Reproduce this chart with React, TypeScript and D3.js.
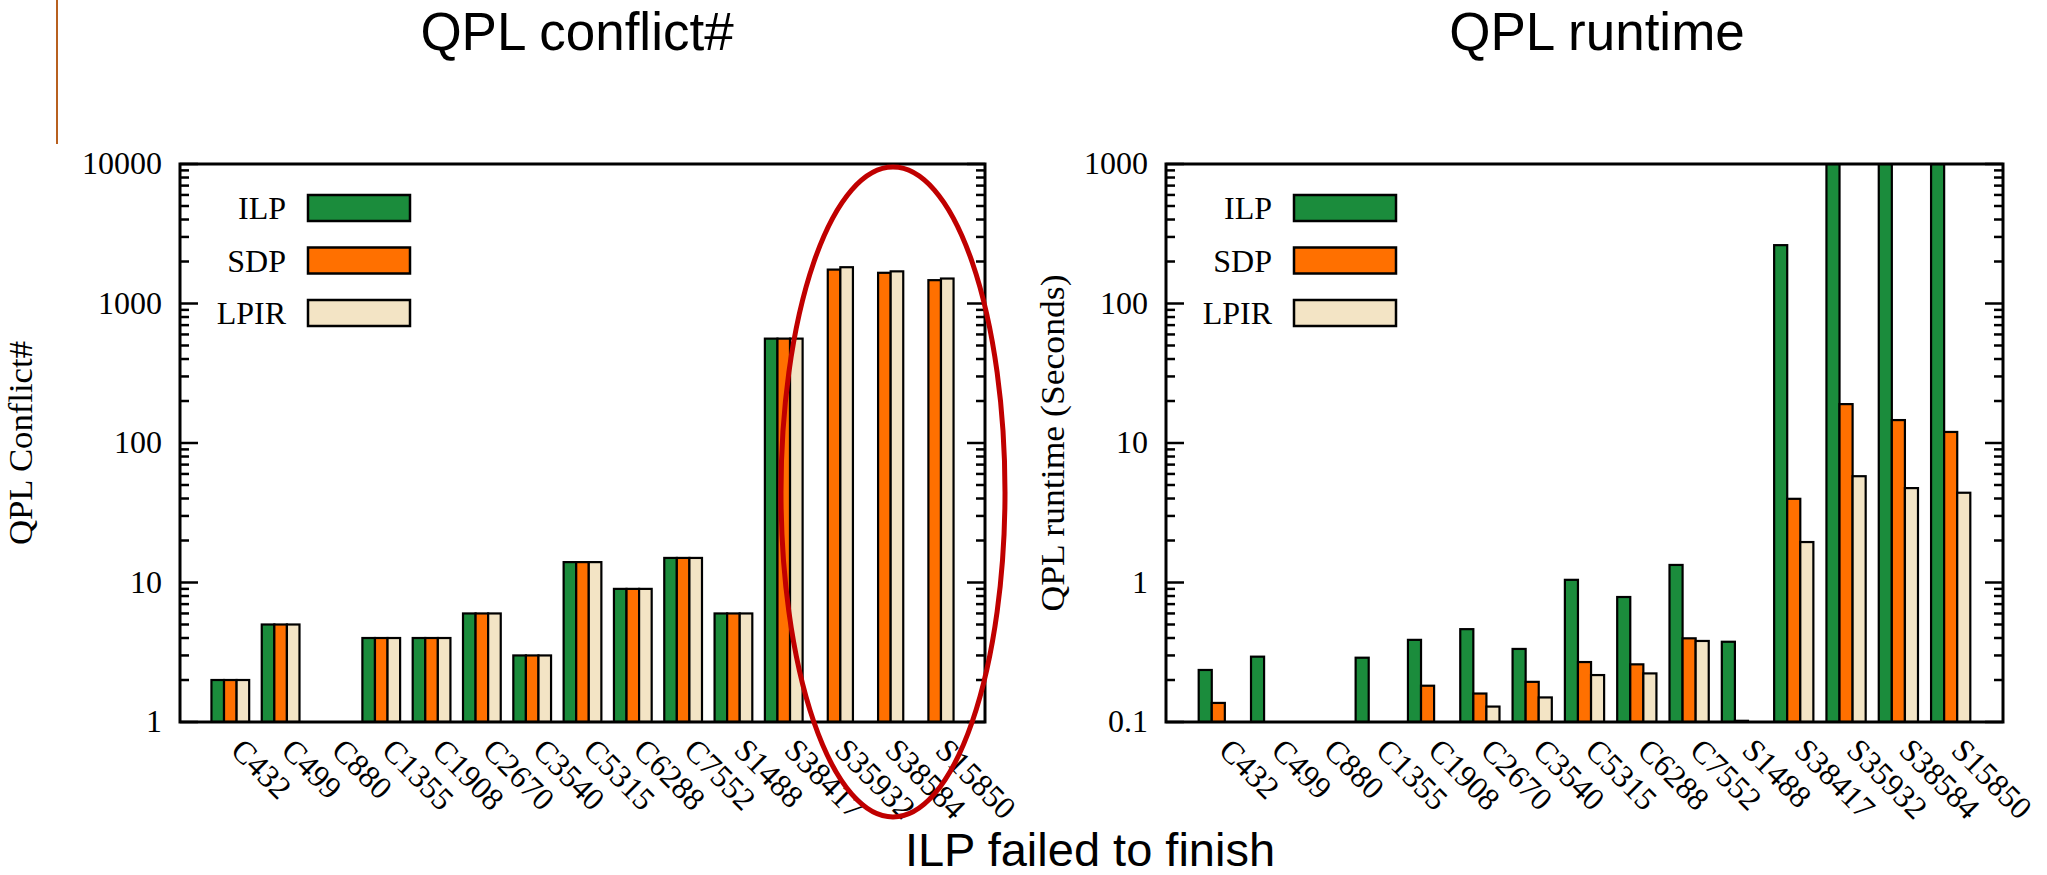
import React from 'react';
import * as d3 from 'd3';

const categories = ['C432','C499','C880','C1355','C1908','C2670','C3540','C5315','C6288','C7552','S1488','S38417','S35932','S38584','S15850'];
const seriesNames = ['ILP','SDP','LPIR'];
const seriesColors = ['#1b8c3c','#ff7000','#f3e4c5'];

const conflictILP: (number|null)[] = [2,5,null,4,4,6,3,14,9,15,6,560,null,null,null];
const conflictSDP: (number|null)[] = [2,5,null,4,4,6,3,14,9,15,6,560,1750,1660,1470];
const conflictLPIR: (number|null)[] = [2,5,null,4,4,6,3,14,9,15,6,560,1820,1700,1510];

const runtimeILP: (number|null)[] = [0.236,0.294,null,0.289,0.388,0.463,0.334,1.045,0.787,1.336,0.376,262,1000,1000,1000];
const runtimeSDP: (number|null)[] = [0.137,null,null,null,0.182,0.160,0.194,0.269,0.259,0.398,0.102,3.98,19.0,14.6,12.0];
const runtimeLPIR: (number|null)[] = [null,null,null,null,null,0.129,0.150,0.217,0.223,0.381,null,1.95,5.78,4.75,4.40];

const conflictTicks = [1,10,100,1000,10000];
const conflictTickLabels = ['1','10','100','1000','10000'];
const runtimeTicks = [0.1,1,10,100,1000];
const runtimeTickLabels = ['0.1','1','10','100','1000'];

const SERIF = '"Liberation Serif", "Times New Roman", serif';
const SANS = '"Liberation Sans", Arial, sans-serif';

type PanelProps = {
  x0: number; x1: number; y0: number; y1: number;
  domain: [number, number];
  ticks: number[]; tickLabels: string[];
  series: (number|null)[][];
  yLabel: string; yLabelX: number; yLabelLen: number;
  clipId: string;
};

function Panel(p: PanelProps) {
  const x = d3.scaleLinear().domain([-1, categories.length]).range([p.x0, p.x1]);
  const y = d3.scaleLog().domain(p.domain).range([p.y1, p.y0]);
  const unit = x(1) - x(0);
  const bw = unit * 0.25;
  const all = y.ticks();
  const majors = new Set(p.ticks.map(t => +t.toPrecision(6)));
  const legendX = p.x0 + 128;
  const yMid = (p.y0 + p.y1) / 2;
  return (
    <g>
      <defs>
        <clipPath id={p.clipId}>
          <rect x={p.x0} y={p.y0} width={p.x1 - p.x0} height={p.y1 - p.y0} />
        </clipPath>
      </defs>
      <g clipPath={`url(#${p.clipId})`}>
        {categories.map((c, i) => p.series.map((s, k) => {
          const v = s[i];
          if (v == null) return null;
          const xc = x(i + (k - 1) * 0.25);
          const top = y(v);
          return (
            <rect key={c + k} x={xc - bw / 2} y={top} width={bw} height={p.y1 - top}
              fill={seriesColors[k]} stroke="#000" strokeWidth={2.2} />
          );
        }))}
      </g>
      {all.map((t, i) => {
        const major = majors.has(+t.toPrecision(6));
        const len = major ? 18 : 9;
        const yy = y(t);
        return (
          <g key={'t' + i}>
            <line x1={p.x0} x2={p.x0 + len} y1={yy} y2={yy} stroke="#000" strokeWidth={2.5} />
            <line x1={p.x1} x2={p.x1 - len} y1={yy} y2={yy} stroke="#000" strokeWidth={2.5} />
          </g>
        );
      })}
      {p.ticks.map((t, i) => (
        <text key={'l' + i} x={p.x0 - 18} y={y(t) + 10} textAnchor="end"
          fontFamily={SERIF} fontSize={32} fill="#000">{p.tickLabels[i]}</text>
      ))}
      <rect x={p.x0} y={p.y0} width={p.x1 - p.x0} height={p.y1 - p.y0} fill="none" stroke="#000" strokeWidth={3} />
      {categories.map((c, i) => {
        const ax = x(i) - 1;
        const ay = p.y1 + 30;
        return (
          <text key={'x' + c} x={ax} y={ay} transform={`rotate(45 ${ax} ${ay})`}
            fontFamily={SERIF} fontSize={32} fill="#000">{c}</text>
        );
      })}
      {seriesNames.map((n, k) => {
        const cy = 208 + k * 52.5;
        return (
          <g key={'lg' + n}>
            <text x={legendX - 22} y={cy + 11} textAnchor="end" fontFamily={SERIF} fontSize={32} fill="#000">{n}</text>
            <rect x={legendX} y={cy - 13} width={102} height={26} fill={seriesColors[k]} stroke="#000" strokeWidth={2.5} />
          </g>
        );
      })}
      <text x={p.yLabelX} y={yMid} transform={`rotate(-90 ${p.yLabelX} ${yMid})`} textAnchor="middle"
        fontFamily={SERIF} fontSize={33} fill="#000" textLength={p.yLabelLen} lengthAdjust="spacingAndGlyphs">{p.yLabel}</text>
    </g>
  );
}

export default function App() {
  return (
    <svg width={2047} height={875} style={{ position: 'absolute', left: 0, top: 0, background: '#fff' }}>
      <rect x={0} y={0} width={2047} height={875} fill="#fff" />
      <line x1={57} x2={57} y1={0} y2={144} stroke="#b8601f" strokeWidth={2} />
      <text x={577} y={50} textAnchor="middle" fontFamily={SANS} fontSize={53} fill="#000">QPL conflict#</text>
      <text x={1597} y={50} textAnchor="middle" fontFamily={SANS} fontSize={53} fill="#000">QPL runtime</text>
      <Panel x0={180} x1={985} y0={164} y1={722} domain={[1, 10000]}
        ticks={conflictTicks} tickLabels={conflictTickLabels}
        series={[conflictILP, conflictSDP, conflictLPIR]}
        yLabel="QPL Conflict#" yLabelX={32} yLabelLen={204} clipId="clipL" />
      <Panel x0={1166} x1={2003} y0={164} y1={722} domain={[0.1, 1000]}
        ticks={runtimeTicks} tickLabels={runtimeTickLabels}
        series={[runtimeILP, runtimeSDP, runtimeLPIR]}
        yLabel="QPL runtime (Seconds)" yLabelX={1064} yLabelLen={337} clipId="clipR" />
      <ellipse cx={893} cy={492} rx={112} ry={325} fill="none" stroke="#c00000" strokeWidth={5} />
      <text x={1090} y={866} textAnchor="middle" fontFamily={SANS} fontSize={47} fill="#000">ILP failed to finish</text>
    </svg>
  );
}
